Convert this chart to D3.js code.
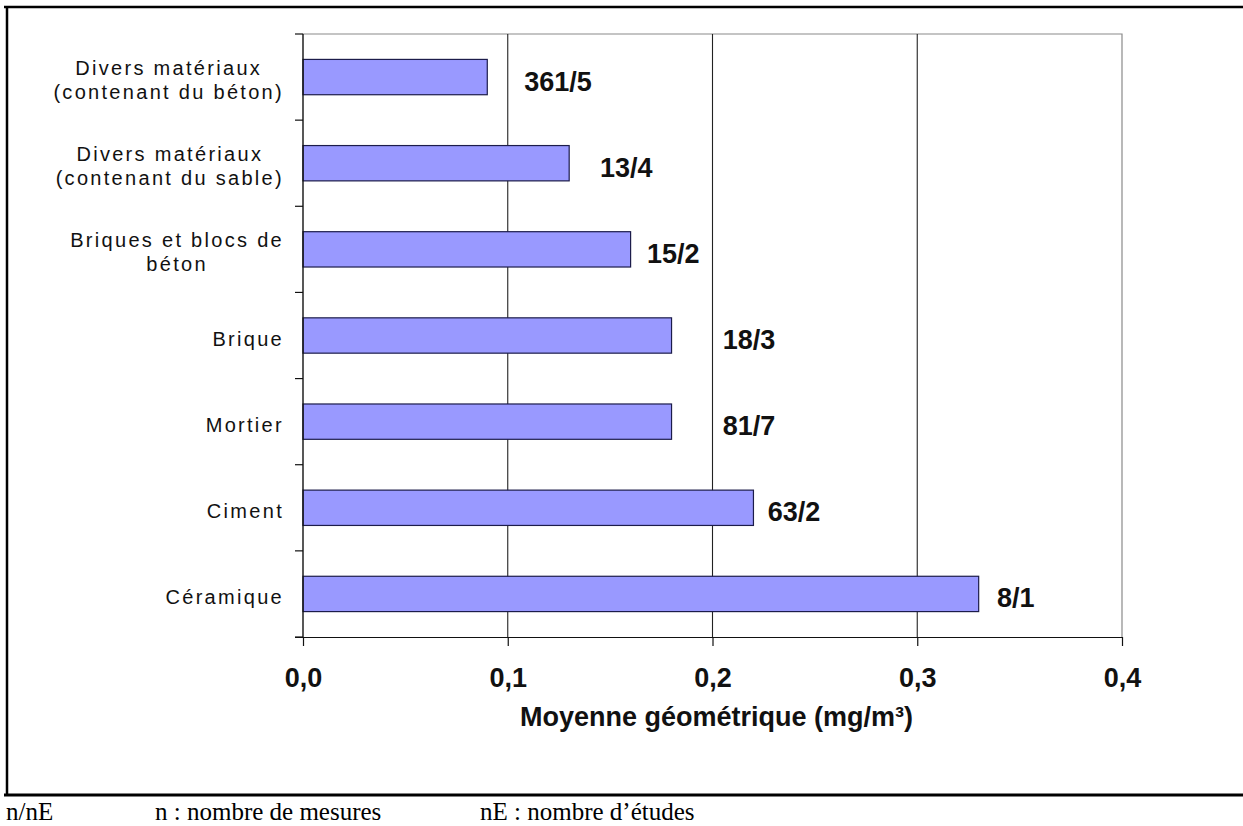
<!DOCTYPE html>
<html>
<head>
<meta charset="utf-8">
<script src="https://cdn.jsdelivr.net/npm/d3@7"></script>
<style>
  html, body { margin: 0; padding: 0; background: #fff; }
  svg { display: block; }
</style>
</head>
<body>
<div id="chart"></div>
<script>
// Categories, top to bottom.
const categories = [
  ["Divers matériaux", "(contenant du béton)"],
  ["Divers matériaux", "(contenant du sable)"],
  ["Briques et blocs de", "béton"],
  ["Brique"],
  ["Mortier"],
  ["Ciment"],
  ["Céramique"]
];
// Geometric mean (mg/m³).
const values = [0.09, 0.13, 0.16, 0.18, 0.18, 0.22, 0.33];
// n / nE annotations and where they sit on the value axis.
const counts = ["361/5", "13/4", "15/2", "18/3", "81/7", "63/2", "8/1"];
const countAt = [0.108, 0.145, 0.168, 0.205, 0.205, 0.227, 0.339];
const xTicks = [0, 0.1, 0.2, 0.3, 0.4];
const footer = ["n/nE", "n : nombre de mesures", "nE : nombre d\u2019études"];

const width = 1243;
const height = 826;
const plot = { left: 303, right: 1122, top: 34, bottom: 637 };

const svg = d3.select("#chart").append("svg")
  .attr("width", width)
  .attr("height", height)
  .attr("viewBox", [0, 0, width, height]);

const keys = categories.map((c, i) => i);
const x = d3.scaleLinear().domain([0, 0.4]).range([plot.left, plot.right]);
const y = d3.scaleBand().domain(keys).range([plot.top, plot.bottom]).padding(0);
const barH = y.bandwidth() * 0.41;

const fr = d3.formatLocale({ decimal: ",", thousands: " ", grouping: [3], currency: ["", " €"] });
const fmt = fr.format(".1f");

// Outer frame (document table borders).
svg.append("line").attr("x1", 4).attr("x2", width).attr("y1", 7).attr("y2", 7)
  .attr("stroke", "#000").attr("stroke-width", 2.5);
svg.append("line").attr("x1", 7).attr("x2", 7).attr("y1", 6).attr("y2", 796)
  .attr("stroke", "#000").attr("stroke-width", 2.5);
svg.append("line").attr("x1", 4).attr("x2", width).attr("y1", 795).attr("y2", 795)
  .attr("stroke", "#000").attr("stroke-width", 3);

// Plot border top + right (grey).
svg.append("path")
  .attr("d", `M${plot.left},${plot.top}H${x(0.4)}V${plot.bottom}`)
  .attr("fill", "none").attr("stroke", "#8a8a8a").attr("stroke-width", 1.2);

// Vertical gridlines.
svg.append("g").selectAll("line")
  .data(xTicks.filter((t) => t > 0 && t < 0.4))
  .join("line")
  .attr("x1", (d) => x(d)).attr("x2", (d) => x(d))
  .attr("y1", plot.top).attr("y2", plot.bottom)
  .attr("stroke", "#222").attr("stroke-width", 1.1);

// Bars.
svg.append("g").selectAll("rect")
  .data(values)
  .join("rect")
  .attr("x", x(0))
  .attr("y", (d, i) => y(i) + y.bandwidth() / 2 - barH / 2)
  .attr("width", (d) => x(d) - x(0))
  .attr("height", barH)
  .attr("fill", "#9999ff")
  .attr("stroke", "#1c1c4a")
  .attr("stroke-width", 1.2);

// X axis.
const xAxis = svg.append("g")
  .attr("transform", `translate(0,${plot.bottom})`)
  .call(d3.axisBottom(x).tickValues(xTicks).tickSize(9).tickSizeOuter(0).tickFormat(fmt));
xAxis.select(".domain").attr("stroke", "#111").attr("stroke-width", 1.2)
  .attr("d", `M${plot.left - 8},0.5H${plot.right}`);
xAxis.selectAll(".tick line").attr("stroke", "#111").attr("stroke-width", 1.2);
xAxis.selectAll(".tick text")
  .attr("y", 50).attr("dy", 0)
  .attr("fill", "#111")
  .style("font", "bold 27px 'Liberation Sans', Arial, sans-serif");

// Y axis line and ticks between categories.
const bounds = keys.map((k) => y(k)).concat([plot.bottom]);
const yAxis = svg.append("g");
yAxis.append("line")
  .attr("x1", plot.left).attr("x2", plot.left)
  .attr("y1", plot.top).attr("y2", plot.bottom)
  .attr("stroke", "#111").attr("stroke-width", 1.4);
yAxis.selectAll("line.tick")
  .data(bounds)
  .join("line")
  .attr("class", "tick")
  .attr("x1", plot.left - 8).attr("x2", plot.left)
  .attr("y1", (d) => d).attr("y2", (d) => d)
  .attr("stroke", "#111").attr("stroke-width", 1.2);

// Category labels: block right-aligned, lines centred in the block.
const labelRight = 284;
const lineH = 24;
const catG = svg.append("g")
  .style("font", "20px 'Liberation Sans', Arial, sans-serif")
  .style("letter-spacing", "2.3px")
  .attr("fill", "#111");
categories.forEach((lines, i) => {
  const cy = y(i) + y.bandwidth() / 2;
  const texts = lines.map((l, j) => catG.append("text")
    .attr("text-anchor", "middle")
    .attr("y", cy + (j - (lines.length - 1) / 2) * lineH + 3)
    .attr("dy", "0.35em")
    .text(l));
  const w = d3.max(texts, (t) => t.node().getComputedTextLength());
  texts.forEach((t) => t.attr("x", labelRight - w / 2));
});

// n/nE annotations.
svg.append("g").selectAll("text")
  .data(counts)
  .join("text")
  .attr("x", (d, i) => x(countAt[i]))
  .attr("y", (d, i) => y(i) + y.bandwidth() / 2 + 4)
  .attr("dy", "0.35em")
  .attr("fill", "#111")
  .style("font", "bold 27px 'Liberation Sans', Arial, sans-serif")
  .text((d) => d);

// Axis title.
svg.append("text")
  .attr("x", (plot.left + plot.right) / 2 + 4)
  .attr("y", 726)
  .attr("text-anchor", "middle")
  .attr("fill", "#111")
  .style("font", "bold 27px 'Liberation Sans', Arial, sans-serif")
  .text("Moyenne géométrique (mg/m³)");

// Footer legend.
const footX = [6, 155, 480];
svg.append("g").selectAll("text")
  .data(footer)
  .join("text")
  .attr("x", (d, i) => footX[i])
  .attr("y", 820)
  .attr("fill", "#000")
  .style("font", "25px 'Liberation Serif', 'Times New Roman', serif")
  .text((d) => d);
</script>
</body>
</html>
